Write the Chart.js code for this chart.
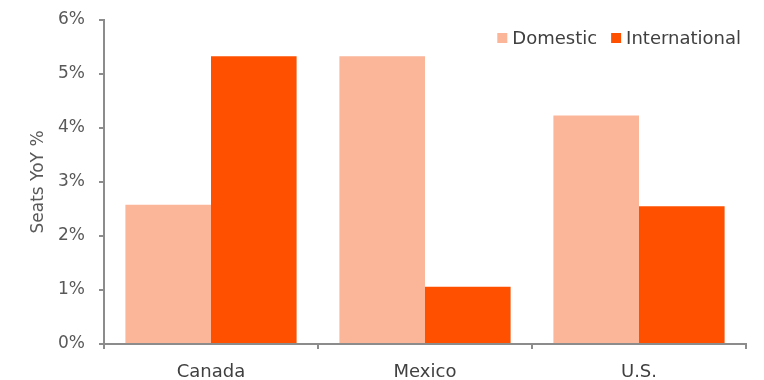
<!DOCTYPE html>
<html>
<head>
<meta charset="utf-8">
<script src="https://cdn.jsdelivr.net/npm/chart.js@4.4.1/dist/chart.umd.min.js"></script>
<style>
  html, body { margin: 0; padding: 0; background: #fff; }
  #wrap { width: 764px; height: 380px; }
</style>
</head>
<body>
<div id="wrap"><canvas id="seats-chart" width="764" height="380"></canvas></div>
<script>
/** Markets along the x axis */
const markets = ['Canada', 'Mexico', 'U.S.'];
/** Domestic seat growth, YoY % */
const domestic = [2.58, 5.33, 4.23];
/** International seat growth, YoY % */
const international = [5.33, 1.06, 2.55];
/** Y axis tick values (percent) */
const yTicks = [0, 1, 2, 3, 4, 5, 6];

const axisGrey = '#8c8c8c';
const fontFamily = '"DejaVu Sans", sans-serif';

const pct = (value) => `${value}%`;

/** Legend drawn inside the plot area, top right, in one row */
const insideLegend = {
  id: 'insideLegend',
  afterDraw: (chart) => {
    const ctx = chart.ctx;
    const box = 10;
    const textGap = 5;
    const itemGap = 14;
    ctx.save();
    ctx.font = `18px ${fontFamily}`;
    ctx.textBaseline = 'middle';
    const items = chart.data.datasets.map(ds => ({
      label: ds.label,
      color: ds.backgroundColor,
      width: box + textGap + ctx.measureText(ds.label).width,
    }));
    const total = items.reduce((sum, item) => sum + item.width, 0) + itemGap * (items.length - 1);
    let x = chart.chartArea.right - 5 - total;
    const y = 38;
    items.forEach(item => {
      ctx.fillStyle = item.color;
      ctx.fillRect(x, y - box / 2, box, box);
      ctx.fillStyle = '#404040';
      ctx.fillText(item.label, x + box + textGap, y + 1);
      x += item.width + itemGap;
    });
    ctx.restore();
  }
};

new Chart(document.getElementById('seats-chart'), {
  type: 'bar',
  data: {
    labels: markets,
    datasets: [{
      label: 'Domestic',
      data: domestic,
      backgroundColor: '#fbb598',
      categoryPercentage: 0.8,
      barPercentage: 1,
    }, {
      label: 'International',
      data: international,
      backgroundColor: '#ff5000',
      categoryPercentage: 0.8,
      barPercentage: 1,
    }]
  },
  options: {
    responsive: false,
    animation: false,
    layout: {
      padding: {left: 20, right: 18, top: 20, bottom: 0}
    },
    scales: {
      x: {
        afterFit: (scale) => {
          scale.height = 36;
          scale.paddingLeft = 0;
          scale.paddingRight = 0;
        },
        border: {color: axisGrey, width: 2},
        grid: {
          drawOnChartArea: false,
          drawTicks: true,
          tickLength: 5,
          color: axisGrey,
          lineWidth: 2,
        },
        ticks: {
          color: '#404040',
          padding: 13,
          font: {family: fontFamily, size: 18},
        },
      },
      y: {
        min: 0,
        max: 6,
        afterFit: (scale) => {
          scale.width = 84;
          scale.paddingTop = 0;
          scale.paddingBottom = 0;
        },
        afterBuildTicks: (scale) => {
          scale.ticks = yTicks.map(value => ({value}));
        },
        border: {color: axisGrey, width: 2},
        grid: {
          drawOnChartArea: false,
          drawTicks: true,
          tickLength: 5,
          color: axisGrey,
          lineWidth: 2,
        },
        ticks: {
          color: '#595959',
          padding: 14,
          font: {family: fontFamily, size: 17},
          callback: (value) => pct(value),
        },
        title: {
          display: true,
          text: 'Seats YoY %',
          color: '#595959',
          padding: {top: 8, bottom: 0},
          font: {family: fontFamily, size: 17},
        },
      }
    },
    plugins: {
      legend: {display: false},
      tooltip: {enabled: false},
    },
  },
  plugins: [insideLegend],
});
</script>
</body>
</html>
